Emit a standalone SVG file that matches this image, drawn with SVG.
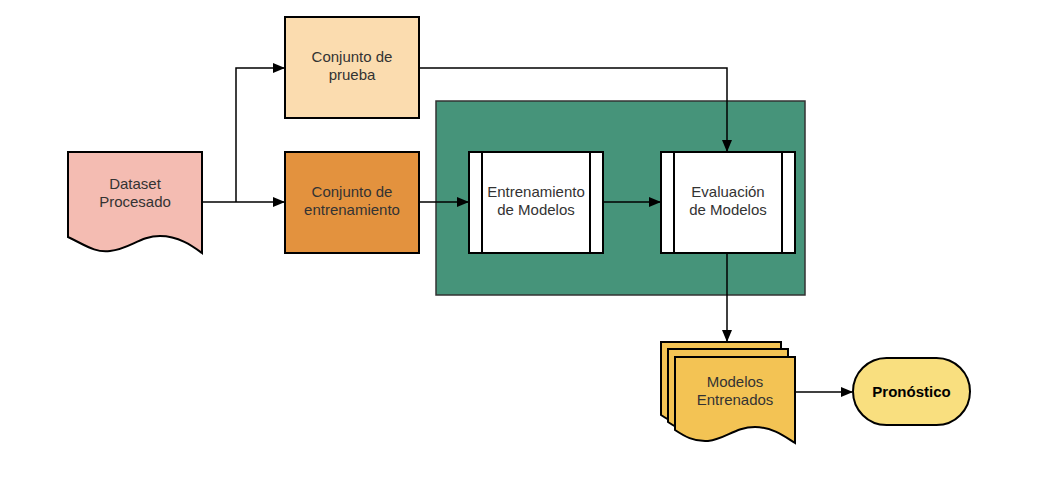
<svg xmlns="http://www.w3.org/2000/svg" width="1044" height="498" viewBox="0 0 1044 498">
<defs>
<marker id="arr" markerWidth="12" markerHeight="10" refX="11" refY="5" orient="auto" markerUnits="userSpaceOnUse">
<path d="M0,0 L12,5 L0,10 Z" fill="#000"/>
</marker>
<style>
.s{stroke:#000;stroke-width:2}
.t{font-family:"Liberation Sans",Arial,sans-serif;font-size:15px;fill:#333;text-anchor:middle}
.c{fill:none;stroke:#000;stroke-width:1.5}
</style>
</defs>
<rect width="1044" height="498" fill="#fff"/>
<g id="container">
<rect x="436" y="101" width="369" height="194" fill="#46947a" stroke="#333" stroke-width="1.5"/>
</g>
<g id="dataset">
<path class="s" d="M68,152 H202 V253 C195,248 180,236 160,236 C140,236 130,249 110,251 C95,253 85,245 68,237 Z" fill="#f4bcb2"/>
<text class="t" x="135" y="189">Dataset</text>
<text class="t" x="135" y="207">Procesado</text>
</g>
<g id="prueba">
<rect class="s" x="285" y="17" width="134" height="101" fill="#fbdcaf"/>
<text class="t" x="352" y="62">Conjunto de</text>
<text class="t" x="352" y="80">prueba</text>
</g>
<g id="entrenamiento-set">
<rect class="s" x="285" y="152" width="134" height="101" fill="#e3923e"/>
<text class="t" x="352" y="197">Conjunto de</text>
<text class="t" x="352" y="215">entrenamiento</text>
</g>
<g id="entrenamiento">
<rect class="s" x="469" y="152" width="134" height="101" fill="#fff"/>
<line class="s" x1="482" y1="152" x2="482" y2="253"/>
<line class="s" x1="590" y1="152" x2="590" y2="253"/>
<text class="t" x="536" y="197">Entrenamiento</text>
<text class="t" x="536" y="215">de Modelos</text>
</g>
<g id="evaluacion">
<rect class="s" x="661" y="152" width="134" height="101" fill="#fff"/>
<line class="s" x1="674" y1="152" x2="674" y2="253"/>
<line class="s" x1="782" y1="152" x2="782" y2="253"/>
<text class="t" x="728" y="197">Evaluación</text>
<text class="t" x="728" y="215">de Modelos</text>
</g>
<g id="modelos">
<path class="s" d="M661,342 H781 V428 C774,424 760,412 741,412 C721,412 712,424 694,426 C680,427 670,421 661,415 Z" fill="#f3c354"/>
<path class="s" d="M668,349 H788 V435 C781,431 767,419 748,419 C728,419 719,431 701,433 C687,434 677,428 668,422 Z" fill="#f3c354"/>
<path class="s" d="M675,357 H795 V443 C788,439 774,427 755,427 C735,427 726,439 708,441 C694,442 684,436 675,430 Z" fill="#f3c354"/>
<text class="t" x="735" y="387">Modelos</text>
<text class="t" x="735" y="405">Entrenados</text>
</g>
<g id="pronostico">
<rect class="s" x="853" y="358" width="117" height="67" rx="33.5" fill="#f9df7f"/>
<text class="t" x="911.5" y="397" style="font-weight:bold;font-size:15px;fill:#000">Pronóstico</text>
</g>
<g id="connectors">
<path class="c" d="M202,202 H284" marker-end="url(#arr)"/>
<path class="c" d="M236,202 V68 H284" marker-end="url(#arr)"/>
<path class="c" d="M419,202 H468" marker-end="url(#arr)"/>
<path class="c" d="M603,202 H660" marker-end="url(#arr)"/>
<path class="c" d="M419,68 H727 V151" marker-end="url(#arr)"/>
<path class="c" d="M727,253 V341" marker-end="url(#arr)"/>
<path class="c" d="M795,392 H852" marker-end="url(#arr)"/>
</g>
</svg>
